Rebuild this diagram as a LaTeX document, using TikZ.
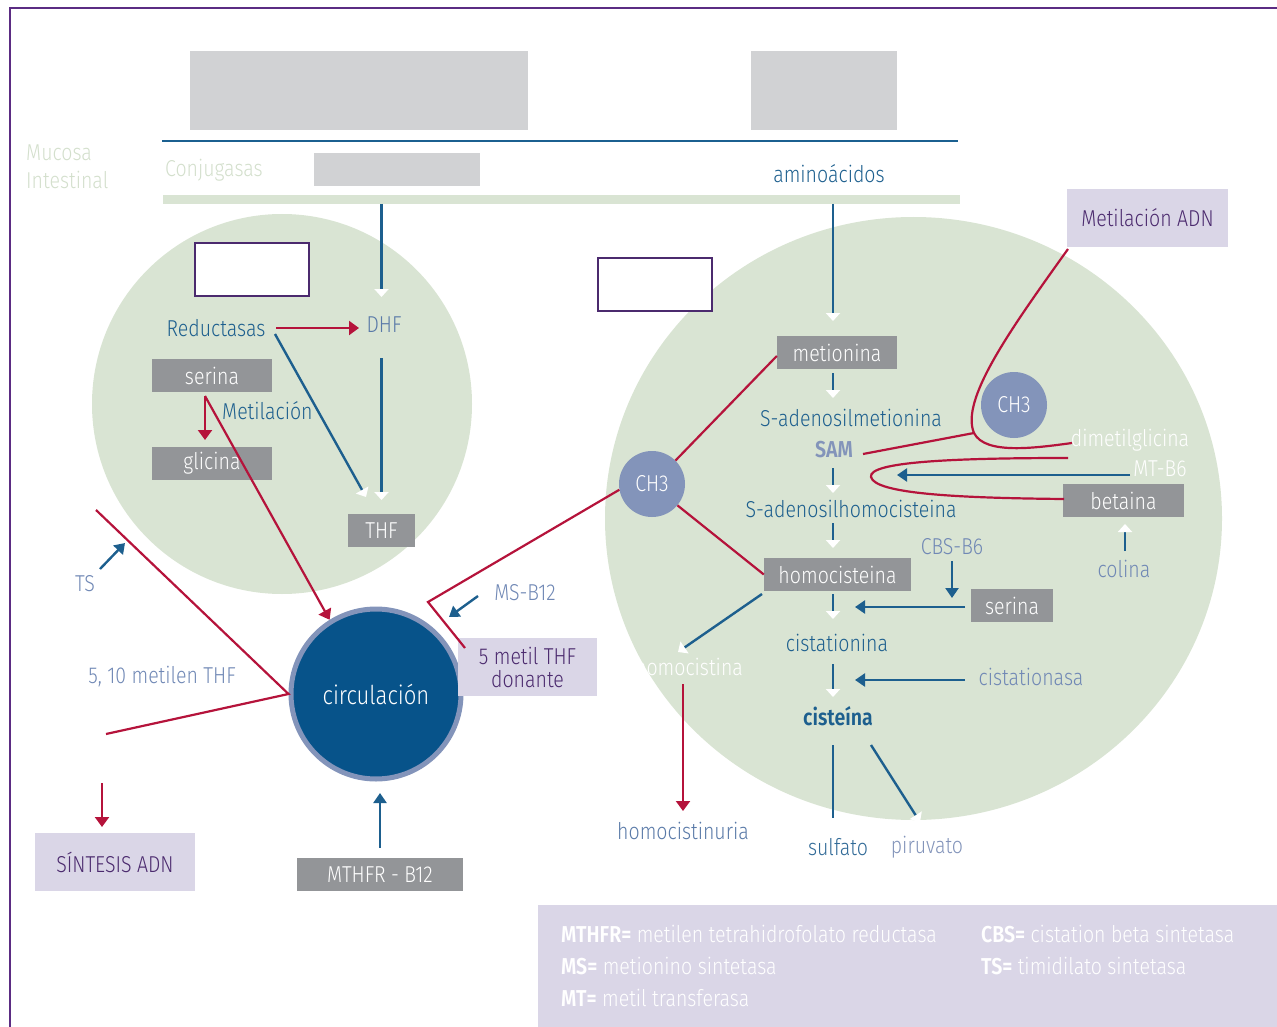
\documentclass[tikz,border=0pt]{standalone}
\usepackage{fontspec}
\setmainfont{Fira Sans}[FakeStretch=0.85,UprightFont={* Light},BoldFont={* SemiBold}]
\usetikzlibrary{arrows.meta}
\definecolor{tblue}{HTML}{1D5F8E}
\definecolor{lblue}{HTML}{7088B5}
\definecolor{dhfc}{HTML}{5A7AA8}
\definecolor{ngray}{HTML}{939598}
\definecolor{lgray}{HTML}{D1D2D4}
\definecolor{mgreen}{HTML}{D9E4D3}
\definecolor{rred}{HTML}{B5133B}
\definecolor{lav}{HTML}{DAD6E7}
\definecolor{purp}{HTML}{4B2A6E}
\definecolor{chc}{HTML}{8394BA}
\definecolor{circc}{HTML}{07538A}
\definecolor{framec}{HTML}{5B2C83}
\definecolor{faint}{HTML}{D3DFCC}
\definecolor{lineblue}{HTML}{1B6090}
\begin{document}
\begin{tikzpicture}[x=1pt,y=-1pt,
  every node/.style={inner sep=0pt,font=\fontsize{23}{26}\selectfont},
  graybox/.style={fill=ngray,text=white,minimum height=33pt},
  lavbox/.style={fill=lav,text=purp,align=center},
  btxt/.style={text=tblue},
  ltxt/.style={text=lblue},
  wbox/.style={draw=purp,fill=white,line width=1.5pt,minimum width=114pt,minimum height=53pt},
  chnode/.style={circle,fill=chc,text=white,minimum size=66pt},
  bline/.style={draw=tblue,line width=2.4pt},
  rline/.style={draw=rred,line width=2.2pt},
  wtip/.style={-{Triangle[width=14pt,length=8pt,color=white]}},
  btip/.style={-{Triangle[width=13pt,length=10pt]}},
  rtip/.style={-{Triangle[width=14pt,length=10pt]}}]
\useasboundingbox (0,0) rectangle (1277,1027);
% frame
\draw[framec,line width=1.8pt] (10,1030) -- (10,8) -- (1280,8);
% top gray shapes
\fill[lgray] (190,51) rectangle (528,130);
\fill[lgray] (751,51) rectangle (897,130);
\draw[lineblue,line width=2.6pt] (162,141) -- (958,141);
\fill[lgray] (314,153) rectangle (480,186);
\fill[mgreen] (163,195) rectangle (960,204);
\node[text=faint,anchor=west] (muc1) at (26,153) {Mucosa};
\node[text=faint,anchor=west] (muc2) at (26,180) {Intestinal};
\node[text=faint,anchor=west] (conj) at (165,170) {Conjugasas};
\node[btxt] (amino) at (829,174) {aminoácidos};
% green circles
\fill[mgreen] (282,404) circle [radius=190];
\fill[mgreen] (913.5,518.5) ellipse [x radius=308.5, y radius=301.5];
% left circle
\node[wbox] (wb1) at (252,269.5) {};
\node[btxt] (red) at (216,328) {Reductasas};
\node[text=dhfc] (dhf) at (384,325) {DHF};
\node[graybox,minimum width=120pt] (ser1) at (212,375.5) {serina};
\node[btxt,anchor=west] (metil) at (222,411) {Metilación};
\node[graybox,minimum width=120pt] (gli) at (212,463.5) {glicina};
\node[graybox,minimum width=67pt] (thf) at (381.5,530.5) {THF};
\coordinate (c1) at (381.5,204);
\coordinate (c2) at (381.5,297);
\coordinate (c3) at (381.5,358);
\coordinate (c4) at (381.5,500);
\coordinate (c5) at (275,334);
\coordinate (c6) at (366,497);
\coordinate (c7) at (276,328);
\coordinate (c8) at (359,328);
\draw[bline,wtip] (c1) -- (c2);
\draw[bline,wtip] (c3) -- (c4);
\draw[bline,wtip] (c5) -- (c6);
\draw[rline,rtip,rred] (c7) -- (c8);
% circulation
\node[circle,fill=circc,draw=chc,line width=5pt,minimum size=170pt,text=white,font=\fontsize{26}{28}\selectfont] (circ) at (376,694) {circulación};
\coordinate (s1) at (205,396);
\coordinate (s2) at (205,440);
\draw[rline,rtip,rred] (s1) -- (s2);
\draw[rline,rtip,rred] (s1) -- (circ.122);
% TS lines
\coordinate (t1) at (96,510);
\coordinate (t2) at (106,734);
\draw[rline] (t1) -- (circ.180) -- (t2);
\node[ltxt] (ts) at (85,584) {TS};
\coordinate (ta) at (100,569);
\coordinate (tb) at (125,543);
\draw[bline,btip,tblue] (ta) -- (tb);
\node[ltxt] (m510) at (162,677) {5, 10 metilen THF};
\coordinate (sa) at (102,783);
\coordinate (sb) at (102,827);
\draw[rline,rtip,rred] (sa) -- (sb);
\node[lavbox,minimum width=160pt,minimum height=58pt] (sint) at (115,862) {SÍNTESIS ADN};
\node[graybox,minimum width=166pt] (mthfr) at (380,874.5) {MTHFR - B12};
\coordinate (mb) at (380,793);
\draw[bline,btip,tblue] (mthfr.north) ++(0,-10) -- (mb);
% 5 metil THF
\node[lavbox,minimum width=139pt,minimum height=58pt] (metthf) at (527.5,667) {5 metil THF\\[-3pt]donante};
\node[ltxt] (msb) at (525,593) {MS-B12};
\coordinate (ma) at (478,596);
\coordinate (mbb) at (449,617);
\draw[bline,btip,tblue] (ma) -- (mbb);
% right circle
\node[wbox] (wb2) at (655,284.5) {};
\node[graybox,minimum width=120pt] (met) at (837,352.5) {metionina};
\node[btxt] (sadm) at (851,418) {S-adenosilmetionina};
\node[text=chc,font=\fontsize{23}{26}\selectfont\bfseries] (sam) at (834,450) {SAM};
\node[btxt] (sadh) at (851,509) {S-adenosilhomocisteina};
\node[graybox,minimum width=147pt] (hcys) at (837.5,574.5) {homocisteina};
\node[btxt] (cist) at (837,643) {cistationina};
\node[text=tblue,font=\fontsize{23}{26}\selectfont\bfseries] (cisteina) at (838,716) {cisteína};
\node[text=tblue!80!chc] (sulf) at (838,847) {sulfato};
\node[text=chc] (piru) at (927,847) {piruvato};
\node[ltxt] (cbs) at (952,547) {CBS-B6};
\node[graybox,minimum width=82pt] (ser2) at (1012,605.5) {serina};
\node[ltxt] (cistasa) at (1031,677) {cistationasa};
\node[text=white] (hcina) at (689,667) {homocistina};
\node[text=dhfc] (hcuria) at (683,831) {homocistinuria};
\node[chnode] (ch1) at (652,484) {CH3};
\node[chnode] (ch2) at (1014,405) {CH3};
\node[lavbox,minimum width=161pt,minimum height=58pt] (mad) at (1147.5,218) {Metilación ADN};
\node[text=white] (dmg) at (1130,440) {dimetilglicina};
\node[text=white] (mtb6) at (1160,469) {MT-B6};
\node[graybox,minimum width=121pt] (bet) at (1123.5,500.5) {betaina};
\node[ltxt] (col) at (1124,569) {colina};
% vertical chain
\coordinate (v1) at (833,204);
\coordinate (v2) at (833,321);
\draw[bline,wtip] (v1) -- (v2);
\coordinate (v3) at (833,373); \coordinate (v4) at (833,398);
\draw[bline,wtip] (v3) -- (v4);
\coordinate (v5) at (833,468); \coordinate (v6) at (833,493);
\draw[bline,wtip] (v5) -- (v6);
\coordinate (v7) at (833,523); \coordinate (v8) at (833,548);
\draw[bline,wtip] (v7) -- (v8);
\coordinate (v9) at (833,594); \coordinate (v10) at (833,619);
\draw[bline,wtip] (v9) -- (v10);
\coordinate (v11) at (833,664); \coordinate (v12) at (833,697);
\draw[bline,wtip] (v11) -- (v12);
\coordinate (v13) at (833,745); \coordinate (v14) at (833,818);
\draw[bline] (v13) -- (v14);
\coordinate (v15) at (871,745); \coordinate (v16) at (920,822);
\draw[bline,wtip] (v15) -- (v16);
% side arrows
\coordinate (cb1) at (952,561); \coordinate (cb2) at (952,598);
\draw[bline,btip,tblue] (cb1) -- (cb2);
\coordinate (se1) at (965,607); \coordinate (se2) at (855,607);
\draw[bline,btip,tblue] (se1) -- (se2);
\coordinate (ca1) at (965,680); \coordinate (ca2) at (855,680);
\draw[bline,btip,tblue] (ca1) -- (ca2);
\coordinate (h1) at (762,594); \coordinate (h2) at (678,652);
\draw[bline,wtip] (h1) -- (h2);
\coordinate (h3) at (683,684); \coordinate (h4) at (683,811);
\draw[rline,rtip,rred] (h3) -- (h4);
\coordinate (co1) at (1125,551); \coordinate (co2) at (1125,524);
\draw[bline,wtip] (co1) -- (co2);
% CH3 red lines
\draw[rline] (met.west |- 0,356) -- (ch1.45);
\draw[rline] (ch1.-40) -- (hcys.west);
\coordinate (k1) at (428,602);
\coordinate (k2) at (465,648);
\draw[rline] (ch1.190) -- (k1) -- (k2);
% curves
\coordinate (r1) at (1068,249);
\coordinate (r2) at (974,433);
\coordinate (r3) at (1072,443);
\coordinate (sm) at (863,454);
\draw[rline] (r1) .. controls (1010,330) and (960,400) .. (r2) .. controls (985,455) and (1035,448) .. (r3);
\draw[rline] (sm) -- (r2);
\coordinate (q1) at (1068,458);
\coordinate (q2) at (871,477);
\coordinate (q3) at (1064,499);
\draw[rline] (q1) .. controls (950,458) and (868,462) .. (q2) .. controls (875,494) and (960,498) .. (q3);
\coordinate (mt1) at (1130,475);
\coordinate (mt2) at (897,475);
\draw[bline,btip,tblue] (mt1) -- (mt2);
% legend
\fill[lav] (538,905) rectangle (1280,1030);
\node[text=white,anchor=west] (l1) at (561,934) {\textbf{MTHFR=} metilen tetrahidrofolato reductasa};
\node[text=white,anchor=west] (l2) at (561,966) {\textbf{MS=} metionino sintetasa};
\node[text=white,anchor=west] (l3) at (561,998) {\textbf{MT=} metil transferasa};
\node[text=white,anchor=west] (l4) at (981,934) {\textbf{CBS=} cistation beta sintetasa};
\node[text=white,anchor=west] (l5) at (981,966) {\textbf{TS=} timidilato sintetasa};
\end{tikzpicture}
\end{document}
